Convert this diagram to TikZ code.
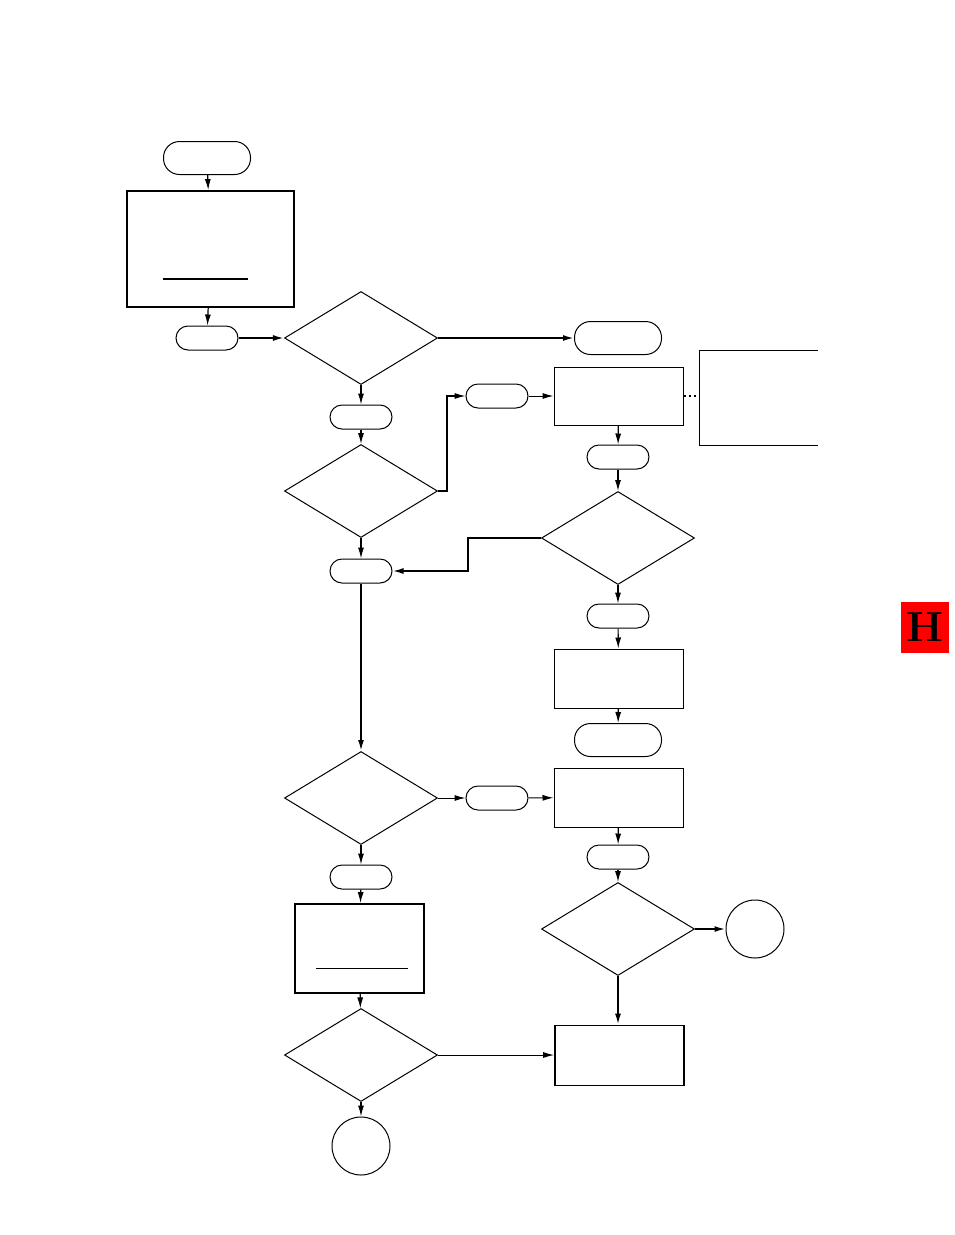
\documentclass[tikz,border=0pt]{standalone}
\usepackage{tikz}
\usetikzlibrary{arrows.meta}
\usetikzlibrary{shapes.geometric}

\begin{document}
\begin{tikzpicture}[x=1pt,y=-1pt]
\tikzset{>={Latex[width=6pt,length=11pt]}}
\tikzstyle{term} =[draw,rectangle,rounded corners=12pt,minimum width=62pt,minimum height=24pt,inner sep=0pt,line width=1pt]
\tikzstyle{bigterm} =[term,rounded corners=16pt,minimum width=87pt,minimum height=33pt]
\tikzstyle{proc} =[draw,rectangle,minimum width=129pt,minimum height=58pt,inner sep=0pt,line width=1pt]
\tikzstyle{decision} =[draw,diamond,minimum width=153pt,minimum height=93pt,inner sep=0pt,line width=1pt]
\tikzstyle{conn} =[draw,circle,minimum size=58pt,inner sep=0pt,line width=1pt]
\tikzstyle{heavy} =[line width=1.8pt]

\useasboundingbox (0,0) rectangle (954,1235);

% left column
\node[bigterm](t1) at (207,158){};
\node[proc,heavy,minimum width=167pt,minimum height=116pt](b1) at (210.5,249){};
\node[term](t2) at (207,338){};
\node[decision](d1) at (361,338){};
\node[term](t4) at (361,417){};
\node[decision](d2) at (361,491){};
\node[term](t7) at (361,571){};
\node[decision](d4) at (361,798){};
\node[term](t12) at (361,877){};
\node[proc,heavy,minimum width=129pt,minimum height=89pt](b2) at (359.5,948.5){};
\node[decision](d6) at (361,1055){};
\node[conn](c2) at (361,1146){};

% right column
\node[bigterm](t3) at (618,338){};
\node[term](t5) at (497,396){};
\node[proc](r1) at (618.5,396){};
\coordinate (r2) at (699,396);
\node[term](t6) at (618,457){};
\node[decision](d3) at (618,538){};
\node[term](t8) at (618,616){};
\node[proc,minimum height=59pt](r3) at (618.5,678.5){};
\node[bigterm](t9) at (618,740){};
\node[proc,minimum height=59pt](r4) at (618.5,797.5){};
\node[term](t10) at (497,798){};
\node[term](t11) at (618,857){};
\node[decision](d5) at (618,929){};
\node[conn](c1) at (755,929){};
\node[proc,heavy,minimum height=60pt](r5) at (619.5,1055.5){};

% tab
\node[fill=red,minimum width=48pt,minimum height=51pt,inner sep=0pt,font=\fontsize{42}{42}\selectfont\bfseries](tab) at (925,627){H};

% inner rules and open box
\draw [heavy] (163,279) -- (248,279);
\draw [line width=1pt] (316,968) -- (408,968);
\draw [line width=1pt] (818,350) -| (699,445) -- (818,445);

\draw [->,line width=1.2pt] (t1) -- (b1);
\draw [->,line width=1.2pt] (b1) -- (t2);
\draw [->,heavy] (t2) -- (d1);
\draw [->,heavy] (d1) -- (t3);
\draw [->,line width=1.2pt] (d1) -- (t4);
\draw [->,line width=1.2pt] (t4) -- (d2);
\draw [->,line width=1.2pt] (d2.east) -- ++(9,0) |- (t5.west);
\draw [->,line width=1pt] (t5) -- (r1);
\draw [heavy,dash pattern=on 2pt off 3pt] (r1.east) -- (r2);
\draw [->,line width=1.2pt] (r1) -- (t6);
\draw [->,line width=1.2pt] (t6) -- (d3);
\draw [->,heavy] (d3.west) -- ++(-73,0) |- (t7.east);
\draw [->,line width=1.2pt] (d2) -- (t7);
\draw [->,heavy] (t7) -- (d4);
\draw [->,line width=1.2pt] (d3) -- (t8);
\draw [->,line width=1.2pt] (t8) -- (r3);
\draw [->,line width=1.2pt] (r3) -- (t9);
\draw [->,line width=1pt] (d4) -- (t10);
\draw [->,line width=1pt] (t10) -- (r4);
\draw [->,line width=1.2pt] (r4) -- (t11);
\draw [->,line width=1.2pt] (t11) -- (d5);
\draw [->,heavy] (d5) -- (c1);
\draw [->,heavy] (d5.south) -- (d5.south |- r5.north);
\draw [->,line width=1.2pt] (d4) -- (t12);
\draw [->,line width=1.2pt] (t12) -- (b2);
\draw [->,line width=1.2pt] (b2) -- (d6);
\draw [->,line width=1pt] (d6.east) -- (d6.east -| r5.west);
\draw [->,line width=1.2pt] (d6) -- (c2);
\end{tikzpicture}
\end{document}
